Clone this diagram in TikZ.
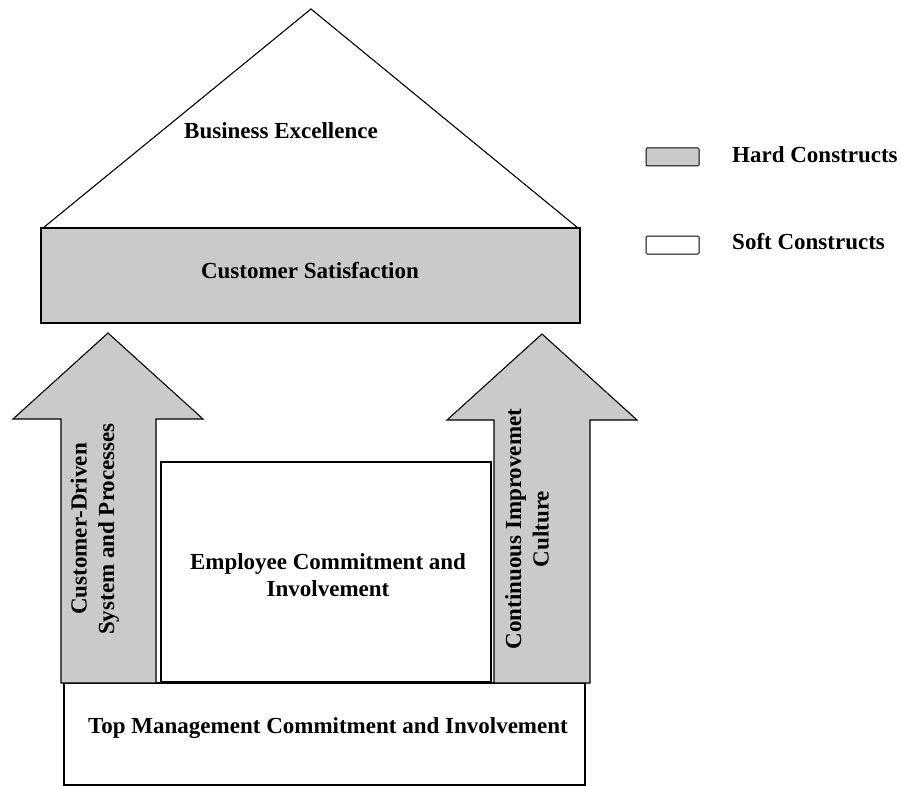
\documentclass[tikz,border=0pt]{standalone}
\usepackage{fontspec}
\setmainfont{Liberation Serif}
\definecolor{hardfill}{RGB}{202,202,202}
\begin{document}
\begin{tikzpicture}[x=1pt,y=-1pt,
  outline/.style={draw=black,line width=1.1pt,line join=miter},
  hard/.style={outline,fill=hardfill},
  soft/.style={outline,fill=white},
  lbl/.style={font=\fontsize{23}{27.5}\selectfont\bfseries,align=center,inner sep=0pt},
  keybox/.style={line width=1pt,draw=black,rounded corners=1pt}]
\useasboundingbox[fill=white] (0,0) rectangle (901,786);

% roof
\draw[outline,fill=white] (43,228) -- (311,9) -- (578,228);
\node[lbl] (excellence) at (281,131) {Business Excellence};

% customer satisfaction beam
\draw[hard] (41,228) rectangle (580,323);
\node[lbl] (satisfaction) at (310,271) {Customer Satisfaction};

% base: top management
\draw[soft] (64,683) rectangle (585,785);
\node[lbl] (topmgmt) at (328,728) {Top Management Commitment and Involvement};

% employee block
\draw[soft] (161,462) rectangle (491,682);
\node[lbl] (employee) at (328,575) {Employee Commitment and\\Involvement};

% left pillar arrow
\draw[hard] (61,683) -- (61,419) -- (13,419) -- (108,333) -- (203,419)
  -- (156,419) -- (156,683) -- cycle;
\node[lbl,rotate=90] (customerdriven) at (95,529)
  {Customer-Driven\\System and Processes};

% right pillar arrow
\draw[hard] (494,683) -- (494,420) -- (447,420) -- (542,334) -- (637,420)
  -- (590,420) -- (590,683) -- cycle;
\node[lbl,rotate=90] (improvement) at (527,529)
  {Continuous Improvemet\\Culture};

% key
\draw[keybox,fill=hardfill] (646,148) rectangle (699,166);
\node[lbl,anchor=west] (hardkey) at (732,155) {Hard Constructs};
\draw[keybox,fill=white] (646,236) rectangle (699,254);
\node[lbl,anchor=west] (softkey) at (732,242) {Soft Constructs};
\end{tikzpicture}
\end{document}
